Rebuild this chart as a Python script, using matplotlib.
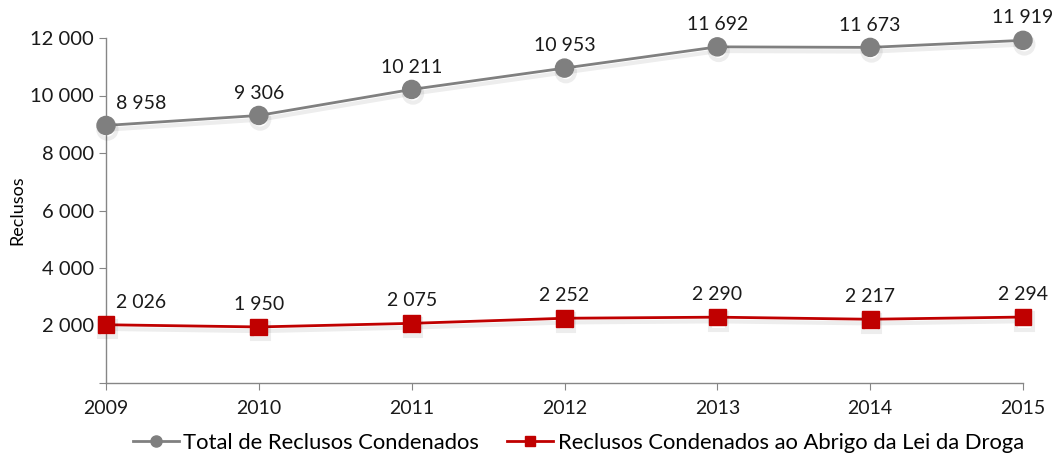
import matplotlib
matplotlib.use("Agg")
import matplotlib.pyplot as plt
import matplotlib.patheffects as pe
from matplotlib.lines import Line2D

years = [2009, 2010, 2011, 2012, 2013, 2014, 2015]
total = [8958, 9306, 10211, 10953, 11692, 11673, 11919]
droga = [2026, 1950, 2075, 2252, 2290, 2217, 2294]
y_ticks = [0, 2000, 4000, 6000, 8000, 10000, 12000]

label_total = "Total de Reclusos Condenados"
label_droga = "Reclusos Condenados ao Abrigo da Lei da Droga"

plt.rcParams['font.family'] = ['Lato', 'DejaVu Sans']


def fmt(v):
    return f"{v:,}".replace(",", " ")


fig = plt.figure(figsize=(10.52, 4.54), dpi=100)
ax = fig.add_axes([106 / 1052, 1 - 383 / 454, (1023 - 106) / 1052, (383 - 38) / 454])

shadow = [pe.SimpleLineShadow(offset=(1, -3), shadow_color='black', alpha=0.07, linewidth=3),
          pe.Normal()]

ax.plot(years, total, color='#808080', lw=2, marker='o', markersize=13,
        markerfacecolor='#7f7f7f', markeredgecolor='#7f7f7f',
        path_effects=shadow, clip_on=False, zorder=3)
ax.plot(years, droga, color='#c00000', lw=2, marker='s', markersize=12,
        markerfacecolor='#c00000', markeredgecolor='#c00000',
        path_effects=shadow, clip_on=False, zorder=3)

for series in (total, droga):
    for i, (x, v) in enumerate(zip(years, series)):
        ha = 'left' if i == 0 else 'center'
        dx = 7 if i == 0 else 0
        ax.annotate(fmt(v), (x, v), xytext=(dx, 10), textcoords='offset points',
                    ha=ha, va='bottom', fontsize=14, color='#1a1a1a')

ax.set_xlim(2009, 2015)
ax.set_ylim(0, 12000)
ax.set_xticks(years)
ax.set_xticklabels([str(y) for y in years], fontsize=14)
ax.set_yticks(y_ticks)
ax.set_yticklabels(['' if t == 0 else fmt(t) for t in y_ticks], fontsize=14.5)
ax.set_ylabel("Reclusos", fontsize=13, labelpad=4)

for s in ['top', 'right']:
    ax.spines[s].set_visible(False)
for s in ['left', 'bottom']:
    ax.spines[s].set_color('#868686')
    ax.spines[s].set_linewidth(1)
ax.tick_params(axis='both', colors='#868686', labelcolor='#1a1a1a', length=5)
ax.tick_params(axis='x', pad=7)

handles = [
    Line2D([0], [0], color='#808080', lw=2, marker='o', markersize=8,
           markerfacecolor='#7f7f7f', markeredgecolor='#7f7f7f'),
    Line2D([0], [0], color='#c00000', lw=2, marker='s', markersize=7,
           markerfacecolor='#c00000', markeredgecolor='#c00000'),
]
ax.legend(handles, [label_total, label_droga], loc='upper center',
          bbox_to_anchor=(0.515, -0.12), ncol=2, frameon=False,
          fontsize=15.8, handlelength=2.1, columnspacing=1.3, handletextpad=0.2,
          borderaxespad=0)

fig.savefig("out.png", dpi=100)
